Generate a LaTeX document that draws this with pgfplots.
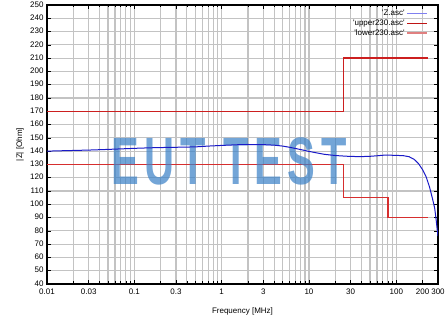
\documentclass[border=0pt]{standalone}
\usepackage{fontspec}
\setmainfont{Liberation Sans}[Ligatures=TeXOff]
\newfontfamily\wmfont{Liberation Sans}[LetterSpace=14]
\usepackage{pgfplots}
\usepackage{pgfplotstable}
\pgfplotsset{compat=1.18}
\definecolor{zblue}{rgb}{0.1,0.1,0.78}
\definecolor{ured}{rgb}{0.8,0.12,0.12}
\definecolor{lred}{rgb}{0.84,0.18,0.18}
\definecolor{legz}{rgb}{0.5,0.5,0.94}
\definecolor{legu}{rgb}{0.75,0.08,0.08}
\definecolor{legl}{rgb}{0.88,0.5,0.5}
\definecolor{wmblue}{rgb}{0.24,0.51,0.78}
\definecolor{gridgray}{rgb}{0.765,0.765,0.765}
\pgfplotstableread{
f z
0.01 140.0
0.015 140.3
0.02 140.5
0.03 140.8
0.05 141.3
0.07 141.7
0.1 142.1
0.15 142.5
0.2 142.7
0.3 142.9
0.5 143.2
0.7 143.8
1 144.3
1.5 144.8
2 145.0
3 144.9
4 144.5
5 143.8
6 142.9
7 142.0
8 141.2
10 139.8
12 138.8
15 137.6
20 136.7
25 136.3
30 136.0
40 135.9
50 136.1
60 136.5
70 136.9
80 137.0
100 136.8
120 136.6
140 135.8
160 133.8
180 130.5
200 126.0
220 120.5
240 113.0
260 104.0
275 97.0
285 89.0
295 80.0
300 76.0
}\zdata
\pgfplotstableread{
f z
0.01 170
25 170
25 210
230 210
}\upperdata
\pgfplotstableread{
f z
0.01 130
25 130
25 105
80 105
80 90
230 90
}\lowerdata
\begin{document}
\begin{tikzpicture}[font=\fontsize{8}{9.6}\selectfont]
\useasboundingbox (-47pt,-36pt) rectangle (401pt,284pt);
\begin{axis}[
  xmode=log, scale only axis, width=391pt, height=279pt,
  xmin=0.01, xmax=300, ymin=40, ymax=250,
  xtick={0.01,0.03,0.1,0.3,1,3,10,30,100,200,300},
  xticklabels={0.01,0.03,0.1,0.3,1,3,10,30,100,200,300},
  minor xtick={0.02,0.04,0.05,0.06,0.07,0.08,0.09,0.2,0.4,0.5,0.6,0.7,0.8,0.9,2,4,5,6,7,8,9,20,40,50,60,70,80,90},
  ytick={40,50,...,250},
  /pgf/number format/assume math mode=true,
  grid=both,
  major grid style={gridgray, line width=1.1pt},
  minor grid style={gridgray, line width=1.1pt},
  tick align=inside, major tick length=4pt, minor tick length=2.5pt,
  tick style={black, line width=0.7pt},
  axis line style={black, line width=1.2pt},
  xticklabel style={font=\fontsize{8}{9.6}\selectfont, yshift=-1.5pt},
  yticklabel style={font=\fontsize{8}{9.6}\selectfont, yshift=0.5pt},
  xlabel={Frequency [MHz]}, ylabel={|Z| [Ohm]},
  xlabel style={at={(axis description cs:0.5,0)}, anchor=center, yshift=-27pt},
  ylabel style={at={(axis description cs:0,0.5)}, anchor=center, yshift=27pt},
  legend plot pos=right,
  legend cell align=right,
  legend image code/.code={\draw[#1, line width=1.2pt] (0pt,0pt) -- (20pt,0pt);},
  legend style={at={(1,1)}, anchor=north east, xshift=-7pt, yshift=-1pt, draw=none, fill=none,
    font=\fontsize{8}{9}\selectfont, row sep=-1.5pt},
]
\addplot[forget plot, color=ured, line width=1.3pt] table[x=f,y=z] {\upperdata};
\addplot[forget plot, color=lred, line width=1.3pt] table[x=f,y=z] {\lowerdata};
\node[font=\wmfont\fontsize{67}{67}\selectfont\bfseries, text=wmblue, text opacity=0.72, xscale=0.62, inner sep=0pt] at (axis cs:1.21,132.3) {EUT TEST};
\addplot[forget plot, color=zblue, line width=1pt] table[x=f,y=z] {\zdata};
\addlegendimage{color=legz}
\addlegendentry{'Z.asc'}
\addlegendimage{color=legu}
\addlegendentry{'upper230.asc'}
\addlegendimage{color=legl}
\addlegendentry{'lower230.asc'}
\end{axis}
\end{tikzpicture}
\end{document}
